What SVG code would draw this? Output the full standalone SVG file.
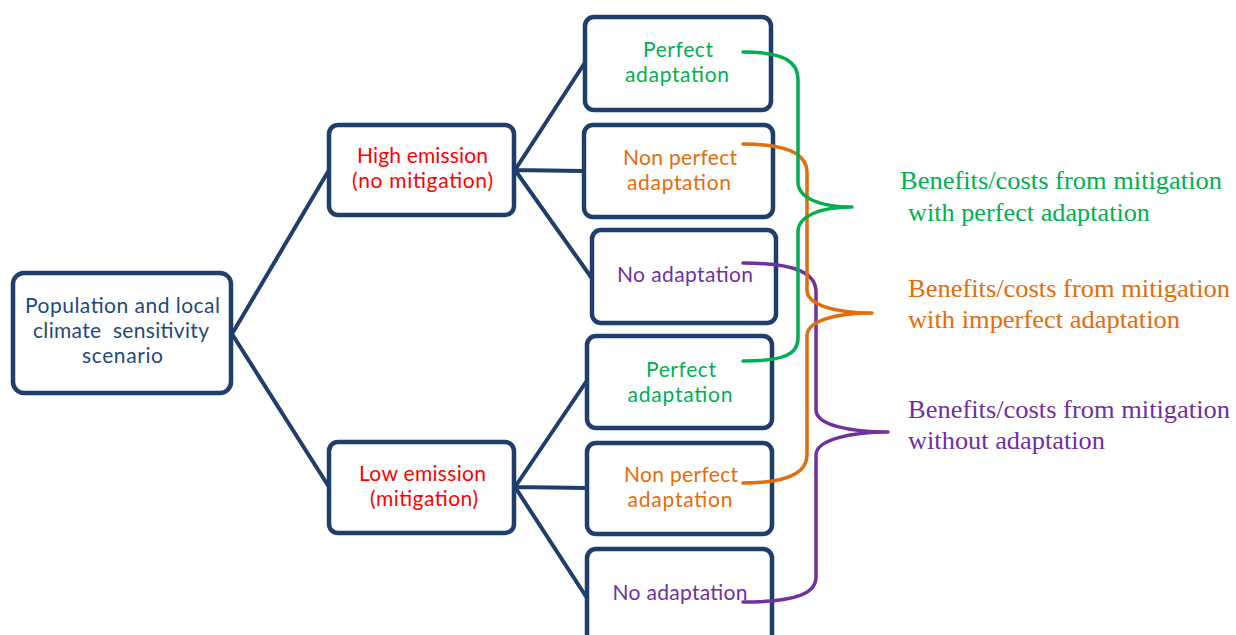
<svg xmlns="http://www.w3.org/2000/svg" width="1236" height="635" viewBox="0 0 1236 635">
<style>
.box{fill:#fff;stroke:#1F3E6C;stroke-width:4.5}
.con{stroke:#1F3E6C;stroke-width:4;fill:none;stroke-linecap:round}
.t{font-family:Lato,"Open Sans",sans-serif;font-size:21px;text-anchor:middle;white-space:pre}
.navy{fill:#1F497D}.red{fill:#FF0000}.grn{fill:#00B050}.org{fill:#E46C0A}.pur{fill:#7030A0}
.lbl{font-family:"Liberation Serif","Times New Roman",serif;font-size:24.5px}
.br{fill:none;stroke-width:3.5;stroke-linecap:round;stroke-linejoin:round}
</style>
<rect width="1236" height="635" fill="#fff"/>
<g id="connectors">
<path class="con" d="M232,334 L329,170 M232,334 L329,487"/>
<path class="con" d="M515,170 L584,64 M515,170 L583,171 M515,170 L591,277"/>
<path class="con" d="M515,487 L586,382 M515,487 L586,488 M515,487 L587,598"/>
</g>
<g id="root">
<rect class="box" x="13" y="273" width="218" height="120" rx="11"/>
<text class="t navy" x="122.5" y="313" textLength="195">Population and local</text>
<text class="t navy" x="121" y="338" textLength="176">climate  sensitivity</text>
<text class="t navy" x="122.5" y="363" textLength="81">scenario</text>
</g>
<g id="high">
<rect class="box" x="329" y="125" width="185" height="90" rx="9"/>
<text class="t red" x="422.5" y="163" textLength="131">High emission</text>
<text class="t red" x="422.5" y="188" textLength="141">(no mitigation)</text>
</g>
<g id="low">
<rect class="box" x="329" y="442" width="185" height="91" rx="9"/>
<text class="t red" x="422.5" y="481" textLength="127">Low emission</text>
<text class="t red" x="424" y="506" textLength="108">(mitigation)</text>
</g>
<g id="hp">
<rect class="box" x="585" y="17" width="186" height="93" rx="9"/>
<text class="t grn" x="678" y="57" textLength="70">Perfect</text>
<text class="t grn" x="677" y="82" textLength="104">adaptation</text>
</g>
<g id="hn">
<rect class="box" x="584" y="125" width="189" height="92" rx="9"/>
<text class="t org" x="680" y="165" textLength="114">Non perfect</text>
<text class="t org" x="679" y="190" textLength="104">adaptation</text>
</g>
<g id="ha">
<rect class="box" x="592" y="230" width="184" height="93" rx="9"/>
<text class="t pur" x="685" y="282" textLength="136">No adaptation</text>
</g>
<g id="lp">
<rect class="box" x="587" y="336" width="185" height="92" rx="9"/>
<text class="t grn" x="681" y="377" textLength="70">Perfect</text>
<text class="t grn" x="680" y="402" textLength="105">adaptation</text>
</g>
<g id="ln">
<rect class="box" x="587" y="443" width="185" height="91" rx="9"/>
<text class="t org" x="681" y="482" textLength="114">Non perfect</text>
<text class="t org" x="680" y="507" textLength="105">adaptation</text>
</g>
<g id="la">
<rect class="box" x="587" y="549" width="185" height="100" rx="9"/>
<text class="t pur" x="680" y="600" textLength="135">No adaptation</text>
</g>
<g id="braces">
<path class="br" stroke="#7030A0" d="M743,263 C800,263 816,275 816,292 L816,410 C816,425 850,432 888,432 C850,432 816,440 816,455 L816,577 C816,592 800,602 743,602"/>
<path class="br" stroke="#E46C0A" d="M743,144 C790,144 807,155 807,172 L807,290 C807,305 835,313 872,313 C835,313 807,321 807,336 L807,455 C807,472 790,483 743,483"/>
<path class="br" stroke="#00B050" d="M743,52 C785,52 798,62 798,80 L798,182 C798,198 820,207 852,207 C820,207 798,216 798,232 L798,338 C798,354 785,361 743,361"/>
</g>
<g id="labels">
<text class="lbl grn" x="900" y="189" textLength="322" lengthAdjust="spacingAndGlyphs">Benefits/costs from mitigation</text>
<text class="lbl grn" x="908" y="221" textLength="242" lengthAdjust="spacingAndGlyphs">with perfect adaptation</text>
<text class="lbl org" x="908" y="297" textLength="322" lengthAdjust="spacingAndGlyphs">Benefits/costs from mitigation</text>
<text class="lbl org" x="908" y="328" textLength="272" lengthAdjust="spacingAndGlyphs">with imperfect adaptation</text>
<text class="lbl pur" x="908" y="418" textLength="322" lengthAdjust="spacingAndGlyphs">Benefits/costs from mitigation</text>
<text class="lbl pur" x="908" y="449" textLength="197" lengthAdjust="spacingAndGlyphs">without adaptation</text>
</g>
</svg>
